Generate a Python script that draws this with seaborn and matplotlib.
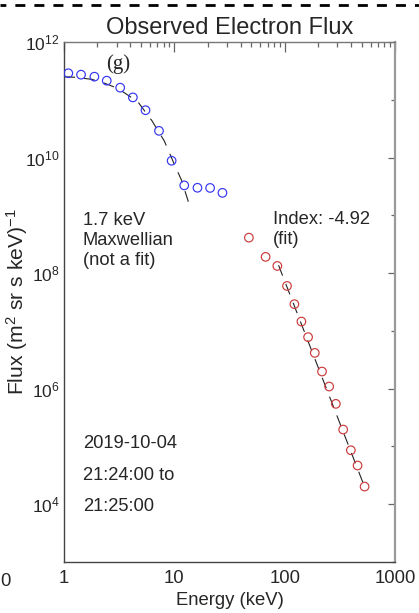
import numpy as np
import pandas as pd
import matplotlib
matplotlib.use("Agg")
import matplotlib.pyplot as plt
from matplotlib.ticker import FixedLocator, LogLocator, NullFormatter, FixedFormatter
import seaborn as sns

# Low-energy channels (blue)
low_energy = [1.094, 1.427, 1.886, 2.44, 3.23, 4.21, 5.48, 7.26, 9.45, 12.3, 16.2, 21.1, 27.3]
low_flux = [2.88e11, 2.72e11, 2.51e11, 2.14e11, 1.62e11, 1.10e11, 6.6e10, 2.9e10,
            8.8e9, 3.3e9, 3.0e9, 2.98e9, 2.45e9]

# High-energy channels (red)
high_energy = [47.4, 67.2, 85.8, 105, 122.5, 141.8, 163, 187.5, 218, 253, 291, 339, 398, 458, 530]
high_flux = [4.11e8, 1.91e8, 1.33e8, 6.0e7, 2.9e7, 1.45e7, 7.8e6, 4.16e6, 1.98e6,
             1.09e6, 5.46e5, 1.96e5, 8.6e4, 4.68e4, 2.02e4]

# 1.7 keV Maxwellian reference curve
maxw_energy = [1.0, 1.26, 1.78, 2.26, 3.06, 4.66, 6.24, 8.11, 10.2, 11.6, 13.97]
maxw_flux = [2.51e11, 2.45e11, 2.26e11, 1.98e11, 1.58e11, 9.27e10, 4.39e10, 1.94e10,
             7.0e9, 4.09e9, 1.34e9]

# Power-law fit
fit_index = -4.92
fit_norm_100kev = 7.3e7
fit_range = [88, 530]

x_ticks = [1, 10, 100, 1000]
x_ticklabels = ["1", "10", "100", "1000"]
y_major_exp = [4, 6, 8, 10, 12]
y_minor_exp = [3, 5, 7, 9, 11]

sns.set_style("white")
plt.rcParams["font.family"] = ["Liberation Sans", "DejaVu Sans"]
plt.rcParams["mathtext.fontset"] = "custom"
plt.rcParams["mathtext.rm"] = "Liberation Sans"
plt.rcParams["mathtext.it"] = "Liberation Sans:italic"
plt.rcParams["mathtext.bf"] = "Liberation Sans:bold"
plt.rcParams["lines.scale_dashes"] = False

W, H = 419, 613
fig = plt.figure(figsize=(W / 100, H / 100), dpi=100)
L, R, T, B = 64, 395, 42, 562
ax = fig.add_axes([L / W, 1 - B / H, (R - L) / W, (B - T) / H])

low_df = pd.DataFrame({"energy": low_energy, "flux": low_flux})
high_df = pd.DataFrame({"energy": high_energy, "flux": high_flux})
maxw_df = pd.DataFrame({"energy": maxw_energy, "flux": maxw_flux})
fit_e = np.array(fit_range, dtype=float)
fit_df = pd.DataFrame({"energy": fit_e,
                       "flux": fit_norm_100kev * (fit_e / 100.0) ** fit_index})

dash = (0, (8, 6.5))
sns.lineplot(data=maxw_df, x="energy", y="flux", ax=ax, color="#222222",
             lw=0.8, linestyle=dash, estimator=None)
sns.lineplot(data=fit_df, x="energy", y="flux", ax=ax, color="#222222",
             lw=0.8, linestyle=dash, estimator=None)
sns.scatterplot(data=low_df, x="energy", y="flux", ax=ax, marker="o", s=38,
                facecolor="none", edgecolor="#3535f0", linewidth=0.85, zorder=3)
sns.scatterplot(data=high_df, x="energy", y="flux", ax=ax, marker="o", s=38,
                facecolor="none", edgecolor="#cc3b3b", linewidth=0.85, zorder=3)

ax.set_xscale("log")
ax.set_yscale("log")
ax.set_xlim(1, 1000)
ax.set_ylim(1e3, 1e12)

ax.xaxis.set_major_locator(FixedLocator(x_ticks))
ax.xaxis.set_major_formatter(FixedFormatter(x_ticklabels))
ax.xaxis.set_minor_locator(LogLocator(base=10, subs=np.arange(2, 10)))
ax.xaxis.set_minor_formatter(NullFormatter())

ax.yaxis.set_major_locator(FixedLocator([10.0 ** e for e in y_major_exp]))
ax.yaxis.set_major_formatter(FixedFormatter([r"$\mathregular{10^{%d}}$" % e for e in y_major_exp]))
ax.yaxis.set_minor_locator(FixedLocator([10.0 ** e for e in y_minor_exp]))
ax.yaxis.set_minor_formatter(NullFormatter())

ax.tick_params(axis="both", which="both", direction="in", top=True, right=True,
               color="#666666", width=0.9)
ax.tick_params(axis="x", which="major", length=7.2, labelsize=13.3, pad=5.5)
ax.tick_params(axis="x", which="minor", length=3.6)
ax.tick_params(axis="y", which="major", length=4.8, labelsize=12.5, pad=3)
ax.tick_params(axis="y", which="minor", length=2.7)

for side, col, lw in [("left", "#444444", 1.0), ("bottom", "#444444", 1.0),
                      ("top", "#777777", 1.0), ("right", "#9a9a9a", 1.6)]:
    ax.spines[side].set_visible(True)
    ax.spines[side].set_color(col)
    ax.spines[side].set_linewidth(lw)

ax.set_xlabel("Energy (keV)", fontsize=13.3, labelpad=4)
ax.set_ylabel(r"Flux (m$^2$ sr s keV)$^{-1}$", fontsize=15.2)
ax.yaxis.set_label_coords(-0.103, 0.5)
ax.set_title("Observed Electron Flux", fontsize=17, pad=5.8)


def px(x, y):
    return (x - L) / (R - L), (B - y) / (B - T)


def label(x, y, s, **kw):
    fx, fy = px(x, y)
    ax.text(fx, fy, s, transform=ax.transAxes, ha="left", va="baseline", **kw)


label(106, 69.5, "(g)", fontsize=15, family="Liberation Serif")
label(82.7, 225, "1.7 keV", fontsize=13.2)
label(82.7, 245, "Maxwellian", fontsize=13.2)
label(82.7, 265, "(not a fit)", fontsize=13.2)
label(272.7, 224, "Index: -4.92", fontsize=13.2)
label(272.7, 243.5, "(fit)", fontsize=13.2)
label(82.7, 447.7, "2019-10-04", fontsize=13.2)
label(82.7, 479.5, "21:24:00 to", fontsize=13.2)
label(82.7, 511, "21:25:00", fontsize=13.2)

# Panel separator along the top edge
fig.add_artist(plt.Line2D([0, 1], [1 - 5 / H, 1 - 5 / H], transform=fig.transFigure,
                          color="black", lw=2.0, linestyle=(3, (7.2, 6.5))))
fig.text(0.5 / W, 1 - 586 / H, "0", fontsize=13.3, ha="left", va="baseline")

fig.savefig("out.png", dpi=100)
